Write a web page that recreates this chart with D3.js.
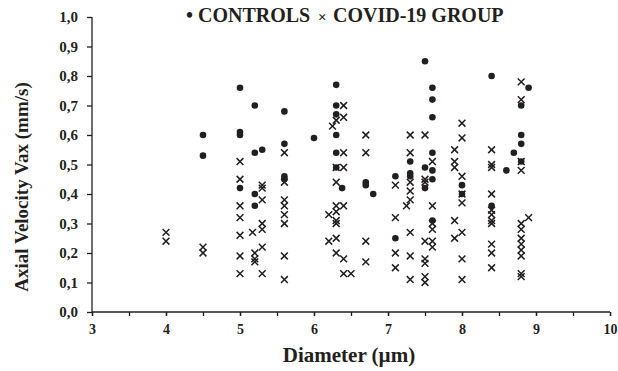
<!DOCTYPE html>
<html>
<head>
<meta charset="utf-8">
<script src="https://cdn.jsdelivr.net/npm/d3@7"></script>
<style>
  html, body { margin: 0; padding: 0; background: #fff; }
  svg { display: block; }
  text { font-family: "Liberation Serif", "Times New Roman", serif; font-weight: bold; fill: #231f20; }
</style>
</head>
<body>
<script>
// ---- data ----
const seriesNames = ["CONTROLS", "COVID-19 GROUP"];
const xTicks = [3, 4, 5, 6, 7, 8, 9, 10];
const yTicks = [0, 0.1, 0.2, 0.3, 0.4, 0.5, 0.6, 0.7, 0.8, 0.9, 1.0];

const controls = [
  [4.5,0.60],[4.5,0.53],
  [5.0,0.76],[5.0,0.61],[5.0,0.60],[5.0,0.42],
  [5.2,0.70],[5.2,0.54],[5.2,0.40],[5.2,0.36],
  [5.3,0.55],
  [5.6,0.68],[5.6,0.57],[5.6,0.46],[5.6,0.45],
  [6.0,0.59],
  [6.3,0.77],[6.3,0.70],[6.3,0.67],[6.3,0.60],[6.3,0.54],[6.3,0.49],
  [6.38,0.42],
  [6.7,0.44],[6.7,0.43],[6.8,0.40],
  [7.1,0.46],[7.1,0.25],
  [7.3,0.51],[7.3,0.47],[7.3,0.46],
  [7.5,0.85],[7.5,0.49],[7.5,0.42],
  [7.6,0.76],[7.6,0.72],[7.6,0.66],[7.6,0.54],[7.6,0.48],[7.6,0.45],[7.6,0.31],
  [8.0,0.43],[8.0,0.40],
  [8.4,0.80],[8.4,0.36],
  [8.6,0.48],[8.7,0.54],
  [8.8,0.70],[8.8,0.60],[8.8,0.57],[8.8,0.51],
  [8.9,0.76]
];

const covid = [
  [4.0,0.27],[4.0,0.24],
  [4.5,0.22],[4.5,0.20],
  [5.0,0.51],[5.0,0.45],[5.0,0.36],[5.0,0.32],[5.0,0.26],[5.0,0.19],[5.0,0.13],
  [5.17,0.27],[5.2,0.20],[5.2,0.18],[5.2,0.17],
  [5.3,0.43],[5.3,0.42],[5.3,0.38],[5.3,0.30],[5.3,0.28],[5.3,0.22],[5.3,0.13],
  [5.6,0.54],[5.6,0.44],[5.6,0.38],[5.6,0.36],[5.6,0.33],[5.6,0.30],[5.6,0.19],[5.6,0.11],
  [6.2,0.33],[6.2,0.24],[6.25,0.63],
  [6.3,0.65],[6.3,0.49],[6.3,0.44],[6.3,0.36],[6.3,0.34],[6.3,0.31],[6.3,0.30],[6.3,0.25],[6.3,0.20],
  [6.4,0.70],[6.4,0.66],[6.4,0.54],[6.4,0.49],[6.4,0.36],[6.4,0.18],[6.4,0.13],
  [6.5,0.13],
  [6.7,0.60],[6.7,0.54],[6.7,0.24],[6.7,0.17],
  [7.1,0.43],[7.1,0.32],[7.1,0.20],[7.1,0.15],
  [7.25,0.36],
  [7.3,0.60],[7.3,0.54],[7.3,0.44],[7.3,0.41],[7.3,0.38],[7.3,0.27],[7.3,0.19],[7.3,0.11],
  [7.5,0.60],[7.5,0.45],[7.5,0.44],[7.5,0.24],[7.5,0.18],[7.5,0.165],[7.5,0.12],[7.5,0.10],
  [7.6,0.51],[7.6,0.36],[7.6,0.30],[7.6,0.28],[7.6,0.24],[7.6,0.22],
  [7.9,0.55],[7.9,0.51],[7.9,0.49],[7.9,0.31],[7.9,0.25],
  [8.0,0.64],[8.0,0.59],[8.0,0.46],[8.0,0.40],[8.0,0.37],[8.0,0.27],[8.0,0.18],[8.0,0.11],
  [8.4,0.55],[8.4,0.50],[8.4,0.49],[8.4,0.40],[8.4,0.345],[8.4,0.33],[8.4,0.31],[8.4,0.30],[8.4,0.23],[8.4,0.20],[8.4,0.15],
  [8.8,0.78],[8.8,0.72],[8.8,0.51],[8.8,0.48],[8.8,0.30],[8.8,0.28],[8.8,0.25],[8.8,0.23],[8.8,0.21],[8.8,0.19],[8.8,0.13],[8.8,0.12],
  [8.9,0.32]
];

// ---- layout ----
const W = 618, H = 371;
const ink = "#231f20";
const x = d3.scaleLinear().domain([3, 10]).range([92, 610]);
const y = d3.scaleLinear().domain([0, 1]).range([312, 17]);

const svg = d3.select("body").append("svg").attr("width", W).attr("height", H);

// y axis
const yAxis = svg.append("g").attr("transform", `translate(${x(3)},0)`)
  .call(d3.axisLeft(y).tickValues(yTicks).tickSize(5).tickPadding(9)
    .tickFormat(d => d3.format(".1f")(d).replace(".", ",")));
yAxis.select(".domain").attr("d", `M0,${y(1)}V${y(0)}`);
yAxis.selectAll("path,line").attr("stroke", ink).attr("stroke-width", 1.3);
yAxis.selectAll("text").style("font-size", "15px").style("font-family", "Liberation Serif").style("font-weight", "bold").attr("fill", ink);

// x axis with minor ticks every 0.5
const minorTicks = d3.range(3, 10.01, 0.5);
const xAxisMinor = svg.append("g").attr("transform", `translate(0,${y(0)})`)
  .call(d3.axisBottom(x).tickValues(minorTicks).tickSize(4).tickFormat(""));
xAxisMinor.select(".domain").attr("d", `M${x(3)},0H${x(10)}`);
xAxisMinor.selectAll("path,line").attr("stroke", ink).attr("stroke-width", 1.3);

const xAxis = svg.append("g").attr("transform", `translate(0,${y(0)})`)
  .call(d3.axisBottom(x).tickValues(xTicks).tickSize(4).tickPadding(8).tickFormat(d3.format("d")));
xAxis.select(".domain").remove();
xAxis.selectAll("line").attr("stroke", ink).attr("stroke-width", 1.3);
xAxis.selectAll("text").style("font-size", "14px").style("font-family", "Liberation Serif").style("font-weight", "bold").attr("fill", ink);

// axis titles
svg.append("text").attr("x", 349).attr("y", 362).attr("text-anchor", "middle")
  .style("font-size", "21px").text("Diameter (µm)");
svg.append("text").attr("transform", `translate(28,${187}) rotate(-90)`).attr("text-anchor", "middle")
  .style("font-size", "19px").text("Axial Velocity Vax (mm/s)");

// legend
const lg = svg.append("text").attr("y", 22).style("font-size", "20px");
lg.append("tspan").attr("x", 186).text("•");
lg.append("tspan").attr("x", 198).text(seriesNames[0]);
lg.append("tspan").attr("x", 318).style("font-size", "15px").text("×");
lg.append("tspan").attr("x", 333).text(seriesNames[1]);

// marks
svg.append("g").selectAll("circle").data(controls).join("circle")
  .attr("cx", d => x(d[0])).attr("cy", d => y(d[1])).attr("r", 3.3).attr("fill", ink);

const c = 3.4;
svg.append("g").selectAll("path").data(covid).join("path")
  .attr("transform", d => `translate(${x(d[0])},${y(d[1])})`)
  .attr("d", `M${-c},${-c}L${c},${c}M${-c},${c}L${c},${-c}`)
  .attr("stroke", ink).attr("stroke-width", 1.5).attr("fill", "none");
</script>
</body>
</html>
